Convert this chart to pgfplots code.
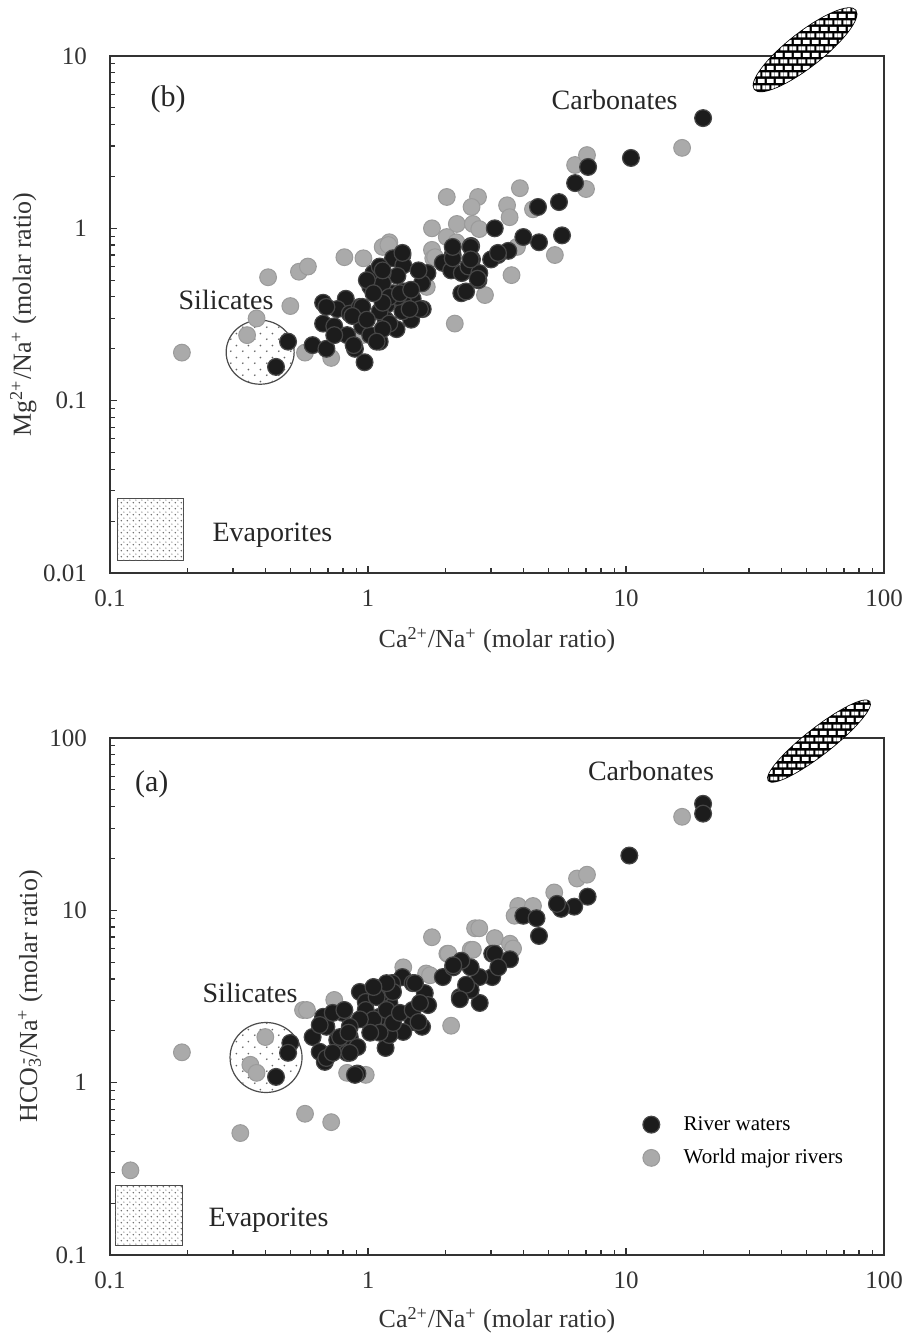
\documentclass[border=0pt]{standalone}
\usepackage{fontspec}
\setmainfont{Liberation Serif}
\usepackage{pgfplots}
\pgfplotsset{compat=1.18}
\usetikzlibrary{patterns,patterns.meta,shapes.geometric}

\definecolor{riverblack}{RGB}{28,28,28}
\definecolor{riverring}{RGB}{70,70,70}
\definecolor{rivergrey}{RGB}{170,170,170}
\definecolor{greyring}{RGB}{155,155,155}
\definecolor{axisgrey}{RGB}{50,50,50}

\tikzdeclarepattern{
  name=evapdots,
  bounding box={(0,0) and (3pt,3pt)},
  tile size={(3pt,3pt)},
  code={\fill (0.75pt,0.75pt) circle (0.45pt); \fill (2.25pt,2.25pt) circle (0.35pt);}
}
\tikzdeclarepattern{
  name=silidots,
  bounding box={(0,0) and (6pt,6pt)},
  tile size={(6pt,6pt)},
  code={\fill (1.5pt,1.5pt) circle (0.5pt); \fill (4.5pt,4.5pt) circle (0.5pt);}
}
\pgfdeclarepatternformonly{carbbricks}{\pgfpointorigin}{\pgfpoint{4.4pt}{6.4pt}}{\pgfpoint{4.4pt}{6.4pt}}{
  \pgfpathrectangle{\pgfpoint{0.5pt}{0.6pt}}{\pgfpoint{3.4pt}{2pt}}
  \pgfpathrectangle{\pgfpoint{0pt}{3.8pt}}{\pgfpoint{1.7pt}{2pt}}
  \pgfpathrectangle{\pgfpoint{2.7pt}{3.8pt}}{\pgfpoint{1.7pt}{2pt}}
  \pgfusepath{fill}
}

\pgfplotsset{
  gdot/.style={only marks, mark=*, mark size=4.2pt,
    mark options={fill=rivergrey, draw=greyring, line width=0.5pt}},
  bdot/.style={only marks, mark=*, mark size=4.2pt,
    mark options={fill=riverblack, draw=riverring, line width=0.6pt}},
}

\begin{document}
\begin{tikzpicture}
\useasboundingbox (0,0) rectangle (454pt,669pt);

% ---------------- Panel (b) ----------------
\begin{axis}[
  xmode=log, ymode=log,
  scale only axis, width=387pt, height=258.5pt,
  xmin=0.1, xmax=100, ymin=0.01, ymax=10,
  clip=false,
  at={(55pt,382.5pt)}, anchor=south west,
  axis line style={axisgrey, line width=0.8pt},
  tick align=inside, xtick pos=bottom, ytick pos=left,
  major tick length=3.5pt, minor tick length=2.3pt,
  tick style={axisgrey, line width=0.6pt},
  xtick={0.1,1,10,100}, xticklabels={0.1,1,10,100},
  minor xtick={0.2,0.3,0.4,0.5,0.6,0.7,0.8,0.9,2,3,4,5,6,7,8,9,20,30,40,50,60,70,80,90},
  ytick={0.01,0.1,1,10}, yticklabels={0.01,0.1,1,10},
  minor ytick={0.02,0.03,0.04,0.05,0.06,0.07,0.08,0.09,0.2,0.3,0.4,0.5,0.6,0.7,0.8,0.9,2,3,4,5,6,7,8,9},
  /pgf/number format/assume math mode=true,
  ticklabel style={font=\fontsize{12.5}{15}\selectfont, text=black!80},
  xticklabel style={yshift=-5pt},
  yticklabel style={xshift=-8pt},
  label style={font=\fontsize{13}{15}\selectfont, text=black!80},
  xlabel={Ca\textsuperscript{2+}/Na\textsuperscript{+} (molar ratio)},
  ylabel={Mg\textsuperscript{2+}/Na\textsuperscript{+} (molar ratio)},
  xlabel style={at={(axis description cs:0.5,-0.13)}, anchor=center},
  ylabel style={at={(axis description cs:-0.112,0.5)}, anchor=center},
]
\draw[draw=black!70, line width=0.5pt, fill=white, postaction={pattern=evapdots, pattern color=black!60}]
  (rel axis cs:0.0103,0.025) rectangle (rel axis cs:0.0956,0.145);
\draw[draw=black!70, line width=0.6pt, fill=white,
  postaction={pattern=silidots, pattern color=black!60}]
  (rel axis cs:0.194,0.427) circle [x radius=17pt, y radius=16pt];
\draw[draw=black, line width=0.8pt, fill=black,
  postaction={pattern=carbbricks, pattern color=white}]
  (rel axis cs:0.898,1.012) circle [x radius=32pt, y radius=8.5pt, rotate=38];

\addplot[gdot] coordinates {
(0.19,0.19) (0.34,0.24) (0.37,0.30) (0.41,0.52) (0.50,0.354) (0.54,0.56) (0.585,0.60)
(0.57,0.19) (0.72,0.177) (0.81,0.68) (0.96,0.67) (1.14,0.78) (1.21,0.83) (0.95,0.24)
(1.20,0.80) (1.77,1.0) (2.02,1.52) (2.67,1.52) (2.52,1.33) (2.21,1.06) (2.55,1.06)
(2.02,0.89) (1.77,0.75) (1.79,0.67) (2.17,0.28) (2.84,0.41) (3.88,1.71) (3.46,1.36)
(3.54,1.16) (2.7,0.99) (2.2,0.83) (3.78,0.78) (5.3,0.70) (3.6,0.535) (6.35,2.33)
(7.06,2.66) (7.0,1.69) (1.69,0.457) (16.5,2.93) (4.36,1.29) (1.82,0.68)
};
\addplot[bdot] coordinates {
(19.9,4.36) (10.45,2.56) (7.13,2.27) (6.35,1.83) (5.5,1.42) (4.56,1.33) (5.65,0.91)
(4.6,0.83) (4.0,0.89) (3.5,0.74) (3.19,0.70) (3.0,0.66) (3.1,1.0) (2.51,0.79) (2.13,0.70)
(1.95,0.63) (2.1,0.57) (2.31,0.55) (2.53,0.66) (2.45,0.60) (2.7,0.55) (2.68,0.50)
(2.3,0.42) (2.4,0.43) (1.7,0.55) (1.62,0.48) (1.36,0.70) (1.25,0.67) (1.37,0.61)
(1.30,0.53) (1.14,0.55) (1.39,0.43) (1.63,0.34) (1.49,0.39) (1.47,0.295) (1.29,0.26)
(1.13,0.46) (1.25,0.42) (1.37,0.37) (1.18,0.36) (1.17,0.295) (1.36,0.33)
(0.49,0.22) (0.44,0.157) (0.61,0.21) (0.67,0.37) (0.67,0.28) (0.69,0.20) (0.82,0.39)
(0.76,0.34) (0.85,0.32) (0.74,0.27) (0.83,0.24) (0.89,0.20) (0.97,0.167) (0.95,0.27)
(0.93,0.35) (1.05,0.55) (1.11,0.60) (1.02,0.46) (1.14,0.48) (1.14,0.38) (1.11,0.33)
(1.21,0.28) (1.11,0.22) (1.02,0.24) (1.3,0.40) (0.69,0.35) (0.74,0.24) (0.88,0.21)
(0.99,0.50) (1.14,0.57) (1.36,0.72) (1.57,0.57) (1.21,0.40) (1.33,0.42) (1.47,0.44)
(1.59,0.34) (1.45,0.34) (1.14,0.26) (1.08,0.22) (1.14,0.37) (1.05,0.42) (0.95,0.35)
(0.87,0.31) (0.99,0.295) (2.13,0.67) (2.13,0.78) (2.5,0.78) (2.5,0.66) (2.66,0.51)
(3.19,0.72)
};

\node[font=\fontsize{15}{17}\selectfont, text=black!85] at (rel axis cs:0.075,0.917) {(b)};
\node[font=\fontsize{14}{16}\selectfont, text=black!85] at (rel axis cs:0.652,0.915) {Carbonates};
\node[font=\fontsize{14}{16}\selectfont, text=black!85] at (rel axis cs:0.150,0.528) {Silicates};
\node[font=\fontsize{14}{16}\selectfont, text=black!85, anchor=west, inner sep=0pt] at (rel axis cs:0.132,0.074) {Evaporites};
\end{axis}

% ---------------- Panel (a) ----------------
\begin{axis}[
  xmode=log, ymode=log,
  scale only axis, width=387pt, height=258.5pt,
  xmin=0.1, xmax=100, ymin=0.1, ymax=100,
  clip=false,
  at={(55pt,41.5pt)}, anchor=south west,
  axis line style={axisgrey, line width=0.8pt},
  tick align=inside, xtick pos=bottom, ytick pos=left,
  major tick length=3.5pt, minor tick length=2.3pt,
  tick style={axisgrey, line width=0.6pt},
  xtick={0.1,1,10,100}, xticklabels={0.1,1,10,100},
  minor xtick={0.2,0.3,0.4,0.5,0.6,0.7,0.8,0.9,2,3,4,5,6,7,8,9,20,30,40,50,60,70,80,90},
  ytick={0.1,1,10,100}, yticklabels={0.1,1,10,100},
  minor ytick={0.2,0.3,0.4,0.5,0.6,0.7,0.8,0.9,2,3,4,5,6,7,8,9,20,30,40,50,60,70,80,90},
  /pgf/number format/assume math mode=true,
  ticklabel style={font=\fontsize{12.5}{15}\selectfont, text=black!80},
  xticklabel style={yshift=-5pt},
  yticklabel style={xshift=-8pt},
  label style={font=\fontsize{13}{15}\selectfont, text=black!80},
  xlabel={Ca\textsuperscript{2+}/Na\textsuperscript{+} (molar ratio)},
  ylabel={HCO\makebox[0pt][l]{\textsuperscript{\,-}}\textsubscript{3}/Na\textsuperscript{+} (molar ratio)},
  xlabel style={at={(axis description cs:0.5,-0.126)}, anchor=center},
  ylabel style={at={(axis description cs:-0.103,0.5)}, anchor=center},
  reverse legend,
  legend cell align=left,
  legend style={at={(rel axis cs:0.688,0.277)}, anchor=north west, draw=none, fill=none,
    font=\fontsize{10.5}{12}\selectfont, row sep=4pt, inner sep=0pt,
    /tikz/every odd column/.append style={column sep=10pt}},
]
\draw[draw=black!70, line width=0.5pt, fill=white, postaction={pattern=evapdots, pattern color=black!60}]
  (rel axis cs:0.0065,0.019) rectangle (rel axis cs:0.094,0.135);
\draw[draw=black!70, line width=0.6pt, fill=white,
  postaction={pattern=silidots, pattern color=black!60}]
  (rel axis cs:0.2016,0.382) circle [x radius=18pt, y radius=17.5pt];
\draw[draw=black, line width=0.8pt, fill=black,
  postaction={pattern=carbbricks, pattern color=white}]
  (rel axis cs:0.916,0.994) circle [x radius=32pt, y radius=6.5pt, rotate=38];

\addplot[gdot] coordinates {
(0.19,1.5) (0.56,2.64) (0.58,2.64) (0.74,3.02) (0.40,1.84) (0.35,1.27) (0.37,1.14)
(0.83,1.14) (0.98,1.11) (0.57,0.66) (0.72,0.59) (0.32,0.51) (0.12,0.31) (1.77,6.98)
(2.6,7.87) (2.7,7.87) (3.1,6.9) (2.03,5.6) (2.5,5.9) (1.37,4.67) (1.68,4.3) (2.1,2.14)
(16.5,34.9) (6.46,15.3) (7.06,16.1) (5.27,12.7) (3.82,10.6) (4.36,10.6) (3.7,9.3)
(3.55,6.4) (3.65,6.0) (2.55,5.9) (2.05,5.6) (1.74,4.2)
};
\addlegendentry{World major rivers}
\addplot[bdot] coordinates {
(0.50,1.70) (0.49,1.49) (0.44,1.08) (0.61,1.84) (0.91,1.13) (1.17,1.59) (0.67,2.41)
(0.69,2.11) (0.65,1.51) (0.68,1.32) (0.76,1.77) (0.85,1.84) (0.83,1.49) (0.91,1.61)
(0.80,2.54) (0.93,3.36) (0.98,2.94) (1.11,2.41) (1.21,2.9) (1.14,3.31) (1.05,2.11)
(1.19,1.95) (0.65,2.16) (0.69,1.39) (0.73,2.54) (0.81,2.64) (0.89,1.11) (1.08,3.14)
(1.25,3.78) (1.36,4.1) (1.49,3.78) (1.66,3.31) (1.71,2.82) (1.49,2.25) (1.62,2.11)
(1.37,1.97) (1.21,1.89) (1.95,4.1) (2.14,4.67) (2.27,3.14) (2.41,3.59) (2.71,2.9)
(3.03,4.1) (3.03,5.6) (10.3,20.8) (7.1,12.0) (6.3,10.5) (5.6,10.2) (5.4,10.9) (4.0,9.3)
(4.5,9.0) (4.6,7.1) (3.1,5.6) (3.55,5.2) (3.2,4.67) (2.7,4.1) (2.5,4.67) (2.3,5.1)
(2.14,4.8) (2.5,3.45) (2.4,3.7) (2.27,3.05) (1.52,3.78) (1.24,3.78) (19.9,41.5)
(19.9,36.4) (0.98,2.64) (1.05,2.33) (1.18,2.64) (1.25,2.22) (1.33,2.54) (1.49,2.64)
(1.59,2.9) (1.57,2.25) (1.11,1.95) (1.02,1.95) (0.93,2.33) (0.85,2.11) (0.78,1.84)
(0.73,1.49) (0.85,1.49) (0.84,1.95) (1.25,3.36) (1.18,3.78) (1.05,3.59)
};
\addlegendentry{River waters}

\node[font=\fontsize{15}{17}\selectfont, text=black!85] at (rel axis cs:0.054,0.911) {(a)};
\node[font=\fontsize{14}{16}\selectfont, text=black!85] at (rel axis cs:0.699,0.936) {Carbonates};
\node[font=\fontsize{14}{16}\selectfont, text=black!85] at (rel axis cs:0.181,0.506) {Silicates};
\node[font=\fontsize{14}{16}\selectfont, text=black!85, anchor=west, inner sep=0pt] at (rel axis cs:0.127,0.068) {Evaporites};
\end{axis}
\end{tikzpicture}
\end{document}
